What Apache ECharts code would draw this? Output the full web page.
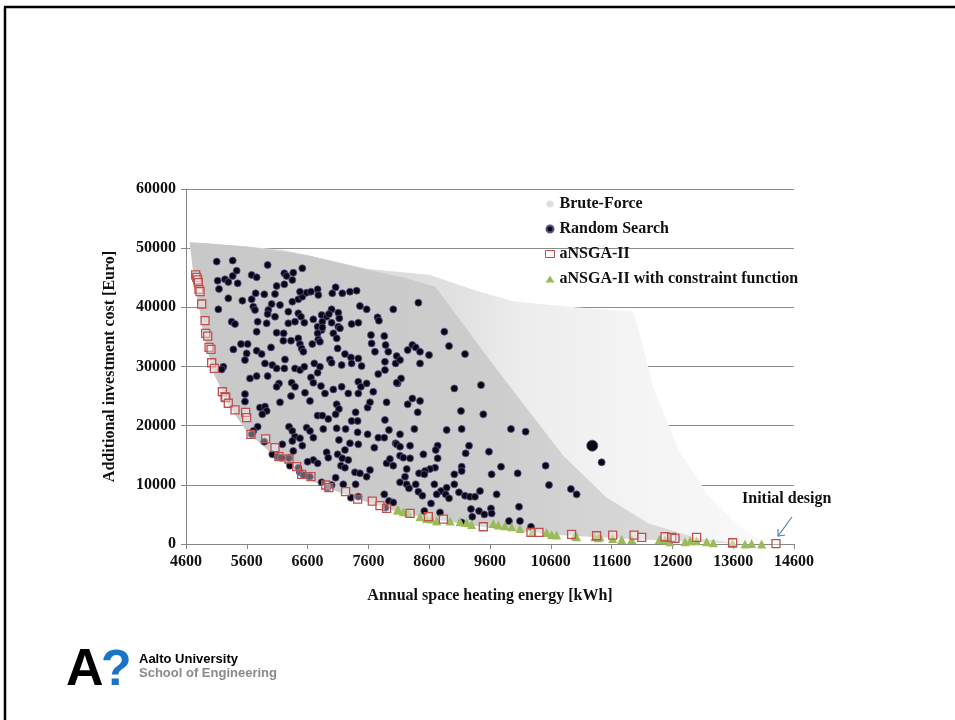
<!DOCTYPE html>
<html>
<head>
<meta charset="utf-8">
<script src="https://cdn.jsdelivr.net/npm/echarts@6/dist/echarts.min.js"></script>
<style>
  html, body { margin: 0; padding: 0; background: #fff; }
  #chart { width: 955px; height: 720px; }
</style>
</head>
<body>
<div id="chart"></div>
<script>
// axis ticks (kWh)
var xTicks = [4600, 5600, 6600, 7600, 8600, 9600, 10600, 11600, 12600, 13600, 14600];

// brute-force cloud, read as envelopes [kWh, Euro]
var bruteUpper = [[4660, 51000], [5000, 50800], [5600, 50300], [6200, 49700], [6600, 48800], [7600, 46500],
  [8600, 45500], [9400, 42700], [10000, 41000], [11000, 40000], [11950, 39300], [12050, 36000],
  [12300, 26000], [12700, 16000], [13200, 8000], [13700, 3000], [14100, 300]];
var denseUpper = [[4660, 51000], [5600, 50300], [6600, 48800], [7600, 46300], [8200, 45000], [8700, 43500],
  [9100, 38000], [9600, 31000], [10200, 23000], [10800, 15000], [11500, 8000], [12200, 3500],
  [13000, 1000], [13700, 100]];
var paretoFront = [[14100, 0], [13600, 100], [12600, 500], [11600, 1000], [10600, 1600], [9600, 2700],
  [8600, 4300], [8000, 5700], [7600, 7000], [7000, 9200], [6600, 11000], [6100, 14500], [5600, 19000],
  [5300, 23500], [5050, 29000], [4900, 35000], [4800, 41000], [4720, 46000], [4660, 51000]];

var randomSearch = [
  [5105, 47726], [5368, 47895], [5943, 47162], [6513, 46598], [5433, 46203], [5368, 45301], [5680, 45470],
  [5762, 45075], [6217, 45752], [6365, 45865], [6255, 45301], [6349, 44624], [5121, 44511], [5242, 44737],
  [5296, 44286], [5450, 44060], [5143, 43101], [6091, 43609], [6217, 43891], [6064, 42255], [5746, 42368],
  [5888, 42199], [5296, 41522], [5527, 41127], [5680, 41353], [6009, 40563], [6146, 40394], [6349, 40958],
  [6447, 41353], [6513, 41804], [6584, 42481], [6655, 42650], [6765, 43045], [6475, 42650], [6776, 42086],
  [7061, 43383], [7006, 42368], [7171, 42368], [7297, 42650], [7406, 42819], [5132, 39661], [5707, 40112],
  [5735, 39548], [5954, 39548], [6064, 38420], [5943, 38871], [6283, 39266], [6447, 38984], [6491, 38420],
  [6393, 37574], [6283, 37292], [6546, 37405], [6694, 37969], [6831, 38702], [6913, 38420], [6995, 39661],
  [6951, 38871], [7105, 39097], [7121, 38138], [6995, 37405], [6842, 37574], [6765, 36728], [6831, 36164],
  [6765, 35600], [7105, 36728], [7132, 36446], [7324, 37179], [7434, 37405], [7461, 40225], [7571, 39661],
  [7751, 38307], [7773, 37743], [8009, 39661], [5351, 37574], [5406, 37179], [5779, 37574], [5927, 37292],
  [5762, 35882], [6091, 35713], [6206, 35600], [6201, 34359], [6327, 34359], [6447, 34754], [6474, 33796],
  [6502, 33062], [6530, 32498], [6677, 33796], [6776, 34585], [6803, 34190], [6842, 36615], [7023, 35600],
  [7078, 34754], [7094, 33062], [7215, 32103], [7313, 31539], [7324, 30524], [7434, 31370], [7488, 30073],
  [7642, 35318], [7653, 33908], [7861, 35149], [7883, 33626], [7708, 32498], [7872, 30806], [7927, 32498],
  [8048, 30524], [8080, 27140], [5505, 33796], [5614, 33796], [5379, 32893], [5598, 32216], [5762, 32667],
  [5844, 32103], [5998, 33231], [5570, 31088], [5899, 30524], [6020, 30242], [6091, 29678], [6217, 29678],
  [6228, 31201], [6393, 29678], [6475, 29396], [6546, 29960], [6710, 30524], [6803, 29960], [6967, 31201],
  [6995, 30637], [7160, 30242], [5214, 29960], [5187, 29509], [5653, 27986], [5762, 28381], [5943, 28381],
  [6129, 27140], [6091, 26576], [6338, 27253], [6393, 26576], [6655, 28155], [6694, 27253], [6765, 28945],
  [6820, 26689], [6886, 25448], [7023, 26125], [7160, 26576], [7434, 27422], [7477, 26576], [7571, 27140],
  [7434, 25448], [7269, 25448], [6557, 25561], [5570, 25335], [6327, 25002], [7762, 28719], [7872, 29396],
  [7680, 25730],
  [8422, 40789], [8849, 35882], [8926, 33457], [9189, 32103], [8323, 33626], [8378, 33231], [8246, 32780],
  [8449, 32498], [8597, 31934], [8065, 31765], [8120, 31088], [8449, 30524], [8137, 27986], [8065, 27253],
  [9013, 26294], [9452, 26858], [8323, 24602],
  [5570, 24068], [5817, 23053], [5899, 23222], [5927, 22489], [5855, 21925], [6146, 23955], [6639, 24181],
  [6765, 21699], [6842, 21699], [7078, 23617], [7116, 22827], [7061, 21925], [6940, 21135], [7324, 20797],
  [7423, 20797], [7390, 22263], [7587, 23053], [7626, 23955], [7899, 23955], [7872, 20966], [5779, 19838],
  [5707, 19105], [6294, 19838], [6349, 19105], [6584, 19669], [6639, 19105], [6694, 17977], [6393, 18146],
  [6349, 17413], [6475, 17864], [6513, 16623], [6184, 16849], [6365, 15721], [5888, 17300], [6858, 19443],
  [7078, 19556], [7225, 19443], [7116, 17582], [7423, 18879], [7587, 18541], [7763, 17977], [7861, 17977],
  [7938, 19274], [7697, 16285], [7434, 16849], [7297, 17018], [7214, 15890], [7094, 15157], [6913, 15495],
  [6940, 14594], [6694, 14198], [6765, 13634], [6601, 13916], [7171, 14481], [7269, 14198], [7149, 13239],
  [7214, 12901], [7379, 12111], [7461, 11942], [7571, 11378], [7626, 12507], [7390, 10081], [7187, 10081],
  [7061, 11209], [6995, 9968], [6930, 9516], [7313, 7825], [7899, 13634], [7954, 14368], [8009, 13239],
  [8047, 17018], [7861, 8389], [7938, 7261], [8009, 7035], [7883, 6133], [7434, 7994], [6020, 15157],
  [6107, 14763], [6162, 14594], [6294, 14481], [6310, 13239], [6447, 12901], [6474, 12111], [6529, 11660],
  [6639, 11378], [6831, 10420], [5680, 18541],
  [8246, 23617], [8449, 24181], [8411, 22263], [9123, 22489], [9490, 21925], [8120, 18541], [8356, 19443],
  [8887, 19274], [9134, 19443], [9945, 19443], [10186, 18992], [11436, 13803], [8065, 16849], [8120, 16454],
  [8285, 16623], [8739, 16623], [8707, 15890], [9255, 16623], [9200, 15326], [9583, 15608], [8120, 14932],
  [8175, 14594], [8285, 14481], [8504, 15157], [8739, 14481], [9781, 13070], [10515, 13239], [10055, 11942],
  [9627, 11773], [9134, 13070], [9134, 12337], [8696, 12901], [8613, 12675], [8531, 12337], [8433, 11942],
  [8520, 11773], [8230, 12675], [8202, 11378], [8120, 10420], [8230, 10081], [8268, 9404], [8378, 10081],
  [9013, 11773], [8685, 10081], [9013, 10081], [8887, 9516], [8794, 8952], [8723, 8389], [8871, 8389],
  [8926, 7712], [8630, 6866], [8422, 8840], [8488, 8163], [9090, 8727], [9189, 8163], [9271, 7994],
  [9353, 7994], [9436, 8953], [9709, 8389], [10570, 9968], [10931, 9291], [11025, 8389], [10077, 6302],
  [9287, 5907], [9419, 5569], [9507, 5005], [9616, 6020], [9627, 5174], [8778, 5343], [8520, 5569],
  [9309, 4610], [9912, 3877], [10093, 3877], [10274, 2918], [9134, 3651]
];
var randomSearchLarge = [[11282, 16623]];

var ansga = [
  [4759, 45470], [4776, 45075], [4792, 44624], [4803, 44173], [4814, 43045], [4831, 42650], [4858, 40563],
  [4913, 37743], [4924, 35600], [4957, 35149], [4979, 33231], [5011, 32893], [5022, 30637], [5066, 29678],
  [5198, 25730], [5242, 24884], [5253, 24745], [5296, 23786], [5406, 22658], [5581, 22263], [5598, 21360],
  [5669, 18541], [5910, 17751], [6064, 16285], [6129, 14763], [6294, 14368], [6420, 13070], [6502, 11773],
  [6655, 11378], [6897, 9968], [6951, 9517], [7225, 8840], [7423, 7600], [7664, 7261], [7790, 6471],
  [7899, 6020], [8285, 5174], [8586, 4610], [8833, 4215], [9490, 2918], [10274, 1960], [10405, 1960],
  [10942, 1621], [11353, 1396], [11618, 1506], [11969, 1506], [12095, 1111], [12479, 1224], [12588, 1111],
  [12643, 942], [12999, 1111], [13591, 209], [14303, 80]
];

var ansgaConstraint = [
  [8080, 5738], [8093, 5738], [8175, 5456], [8257, 5343], [8449, 4610], [8559, 4328], [8641, 4215],
  [8723, 3877], [8942, 3877], [9107, 3764], [9216, 3651], [9298, 3313], [9655, 3482], [9737, 3200],
  [9846, 3087], [9956, 2918], [10093, 2636], [10296, 2072], [10531, 1960], [10614, 1621], [10696, 1508],
  [10997, 1395], [11025, 1226], [11326, 1226], [11381, 1057], [11410, 1224], [11618, 942], [11766, 773],
  [11931, 773], [12385, 773], [12479, 660], [12561, 378], [12807, 378], [12890, 547], [12999, 547],
  [13164, 378], [13273, 209], [13591, 100], [13794, 0], [13903, 100], [14068, 0]
];

var serif = '"Liberation Serif", "Times New Roman", serif';
var axisGrey = '#868686';

function toPoints (api, upper, lower) {
  var pts = [];
  upper.forEach(function (p) { pts.push(api.coord(p)); });
  lower.forEach(function (p) { pts.push(api.coord(p)); });
  return pts;
}

var chart = echarts.init(document.getElementById('chart'));
var option = {
  backgroundColor: '#ffffff',
  animation: false,
  grid: { left: 186, right: 161, top: 189, bottom: 176 },
  legend: {
    orient: 'vertical',
    left: 540,
    top: 191,
    itemGap: 9,
    itemWidth: 9,
    itemHeight: 7,
    textStyle: { fontFamily: serif, fontWeight: 'bold', fontSize: 16, lineHeight: 16, color: '#111' },
    data: [
      { name: 'Brute-Force', icon: 'circle', itemStyle: { color: '#dddddd', opacity: 1 } },
      { name: 'Random Search', icon: 'circle', itemStyle: { color: '#0a0714', opacity: 1 } },
      { name: 'aNSGA-II', icon: 'rect', itemStyle: { color: '#ffffff', borderColor: '#c0504d', borderWidth: 1, opacity: 1 } },
      { name: 'aNSGA-II with constraint function', icon: 'triangle', itemStyle: { color: '#9bbb59', opacity: 1 } }
    ]
  },
  xAxis: {
    type: 'value',
    min: 4600,
    max: 14600,
    name: 'Annual space heating energy [kWh]',
    nameLocation: 'middle',
    nameGap: 44,
    nameTextStyle: { fontFamily: serif, fontWeight: 'bold', fontSize: 16, color: '#111' },
    axisLine: { show: true, lineStyle: { color: axisGrey } },
    axisTick: { show: true, customValues: xTicks, length: 5, lineStyle: { color: axisGrey } },
    axisLabel: {
      customValues: xTicks, margin: 10, fontFamily: serif, fontWeight: 'bold', fontSize: 16, color: '#111',
      formatter: function (v) { return String(v); }
    },
    splitLine: { show: false }
  },
  yAxis: {
    type: 'value',
    min: 0,
    max: 60000,
    interval: 10000,
    name: 'Additional investment cost [Euro]',
    nameLocation: 'middle',
    nameGap: 68,
    nameTextStyle: { fontFamily: serif, fontWeight: 'bold', fontSize: 16, color: '#111' },
    axisLine: { show: true, lineStyle: { color: axisGrey } },
    axisTick: { show: true, length: 5, lineStyle: { color: axisGrey } },
    axisLabel: {
      margin: 10, fontFamily: serif, fontWeight: 'bold', fontSize: 16, color: '#111',
      formatter: function (v) { return String(v); }
    },
    splitLine: { show: true, lineStyle: { color: '#8c8c8c', width: 1 } }
  },
  series: [
    {
      name: 'Brute-Force',
      type: 'custom',
      itemStyle: { color: '#dddddd' },
      silent: true,
      data: [[4600, 0]],
      renderItem: function (params, api) {
        return {
          type: 'group',
          children: [
            {
              type: 'polygon',
              shape: { points: toPoints(api, bruteUpper, paretoFront) },
              style: {
                fill: new echarts.graphic.LinearGradient(0, 0, 1, 0, [
                  { offset: 0, color: '#d6d6d6' },
                  { offset: 0.46, color: '#e0e0e0' },
                  { offset: 0.57, color: '#ececec' },
                  { offset: 0.75, color: '#f3f3f3' },
                  { offset: 1, color: '#f9f9f9' }
                ])
              }
            },
            {
              type: 'polygon',
              shape: { points: toPoints(api, denseUpper, paretoFront) },
              style: {
                fill: new echarts.graphic.LinearGradient(0, 0, 1, 0, [
                  { offset: 0, color: '#c8c8c8' },
                  { offset: 0.5, color: '#cccccc' },
                  { offset: 0.75, color: '#d6d6d6' },
                  { offset: 1, color: '#e2e2e2' }
                ])
              }
            }
          ]
        };
      }
    },
    {
      name: 'Random Search',
      type: 'scatter',
      symbol: 'circle',
      symbolSize: 7,
      itemStyle: { color: '#0a0714', borderColor: '#5d4f8a', borderWidth: 0.8, opacity: 1 },
      data: randomSearch
    },
    {
      name: 'Random Search',
      type: 'scatter',
      symbol: 'circle',
      symbolSize: 11,
      itemStyle: { color: '#0a0714', borderColor: '#4a3f70', borderWidth: 0.8, opacity: 1 },
      data: randomSearchLarge
    },
    {
      name: 'aNSGA-II with constraint function',
      type: 'scatter',
      symbol: 'triangle',
      symbolSize: 9,
      itemStyle: { color: '#9bbb59', opacity: 1 },
      data: ansgaConstraint
    },
    {
      name: 'aNSGA-II',
      type: 'scatter',
      symbol: 'rect',
      symbolSize: 8,
      itemStyle: { color: 'rgba(255,255,255,0.35)', borderColor: '#c0504d', borderWidth: 1.3, opacity: 1 },
      data: ansga
    }
  ],
  graphic: [
    // slide frame
    { type: 'line', shape: { x1: 4, y1: 7, x2: 955, y2: 7 }, style: { stroke: '#000', lineWidth: 2.5 } },
    { type: 'line', shape: { x1: 5, y1: 7, x2: 5, y2: 720 }, style: { stroke: '#000', lineWidth: 2.5 } },
    // annotation
    { type: 'text', left: 742, top: 491, style: { text: 'Initial design', font: 'bold 16px ' + serif, fill: '#111' } },
    { type: 'polyline', shape: { points: [[792, 517], [778, 536]] }, style: { stroke: '#4f81bd', lineWidth: 1.2 } },
    { type: 'polyline', shape: { points: [[778, 529], [778, 536], [785, 535]] }, style: { stroke: '#4f81bd', lineWidth: 1.2, fill: null } },
    // logo
    { type: 'text', x: 66, y: 671, style: { text: 'A', font: '900 52px "Liberation Sans", Arial, sans-serif', fill: '#000', verticalAlign: 'middle' } },
    { type: 'text', x: 101, y: 671, style: { text: '?', font: '900 50px "Liberation Sans", Arial, sans-serif', fill: '#1a74c6', verticalAlign: 'middle' } },
    { type: 'text', x: 139, y: 659, style: { text: 'Aalto University', font: 'bold 13px "Liberation Sans", Arial, sans-serif', fill: '#000', verticalAlign: 'middle' } },
    { type: 'text', x: 139, y: 673, style: { text: 'School of Engineering', font: 'bold 13px "Liberation Sans", Arial, sans-serif', fill: '#8a8a8a', verticalAlign: 'middle' } }
  ]
};
chart.setOption(option);
</script>
</body>
</html>
